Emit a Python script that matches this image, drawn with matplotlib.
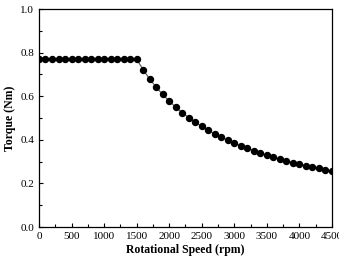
import matplotlib
matplotlib.use('Agg')
import matplotlib.pyplot as plt
from matplotlib.ticker import MultipleLocator

# speed samples (rpm) and torque (Nm)
speed = list(range(0, 4600, 100))
torque = [0.77] * 16 + [
    0.722, 0.679, 0.642, 0.608, 0.578, 0.550, 0.525, 0.502, 0.481, 0.462,
    0.444, 0.428, 0.413, 0.398, 0.385, 0.373, 0.361, 0.350, 0.340, 0.330,
    0.321, 0.312, 0.304, 0.296, 0.289, 0.282, 0.275, 0.269, 0.263, 0.257,
]

plt.rcParams['font.family'] = ['Liberation Serif', 'DejaVu Serif']

fig = plt.figure(figsize=(3.39, 2.58), dpi=100)
ax = fig.add_axes([0.115, 0.12, 0.864, 0.845])

ax.plot(speed, torque, color='#555555', lw=0.8, marker='o', ms=4.3,
        mfc='black', mec='black')

ax.set_xlim(0, 4500)
ax.set_ylim(0, 1.0)
ax.xaxis.set_major_locator(MultipleLocator(500))
ax.xaxis.set_minor_locator(MultipleLocator(250))
ax.yaxis.set_major_locator(MultipleLocator(0.2))
ax.yaxis.set_minor_locator(MultipleLocator(0.1))
ax.tick_params(which='both', direction='in', labelsize=8, width=0.8)
ax.tick_params(which='major', length=3)
ax.tick_params(which='minor', length=2)
for s in ax.spines.values():
    s.set_linewidth(0.9)

ax.set_xlabel('Rotational Speed (rpm)', fontsize=8.5, fontweight='bold', labelpad=2)
ax.set_ylabel('Torque (Nm)', fontsize=8.5, fontweight='bold', labelpad=3)

fig.savefig('out.png', dpi=100)
